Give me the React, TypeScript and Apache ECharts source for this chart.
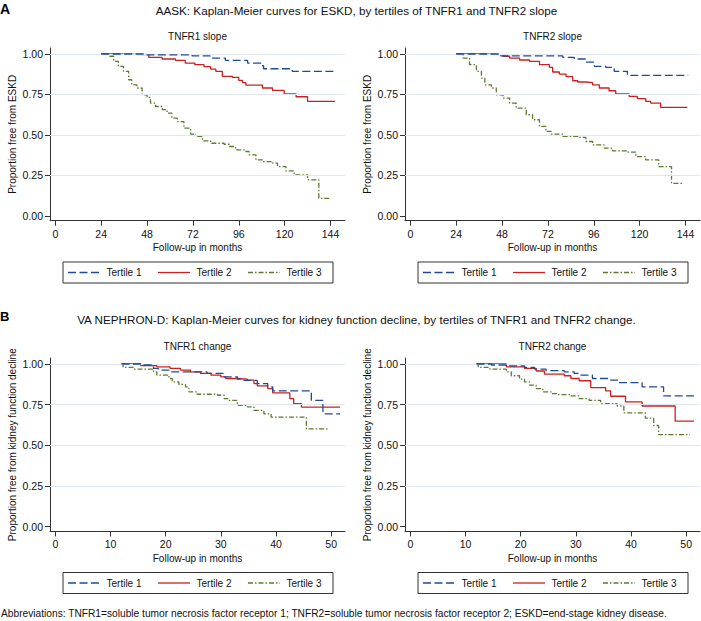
import React, { useEffect, useRef } from "react";
import * as echarts from "echarts";

const FONT = "'Liberation Sans', Arial, Helvetica, sans-serif";

const tertileNames = ["Tertile 1", "Tertile 2", "Tertile 3"];
const aaskTicks = [0, 24, 48, 72, 96, 120, 144];
const vaTicks = [0, 10, 20, 30, 40, 50];
const yTicks = [0, 0.25, 0.5, 0.75, 1];
const gridLineValues = [0.25, 0.5, 0.75, 1];

// AASK, TNFR1 slope: [month, proportion free from ESKD]
const aaskR1T1: number[][] = [[24, 1], [48, 0.995], [71.6, 0.988], [81, 0.975], [89, 0.96], [100.6, 0.944], [107.6, 0.928], [109, 0.909], [124, 0.893], [146.5, 0.893]];
const aaskR1T2: number[][] = [[24, 1], [31, 0.996], [48.9, 0.979], [55.9, 0.969], [62.9, 0.961], [68, 0.944], [73, 0.934], [77.8, 0.922], [81.3, 0.907], [84, 0.893], [87.4, 0.862], [92.7, 0.856], [96, 0.837], [98, 0.823], [99.7, 0.808], [108.4, 0.79], [113.7, 0.775], [119.8, 0.753], [126, 0.736], [132, 0.707], [146.3, 0.707]];
const aaskR1T3: number[][] = [[24, 1], [27.9, 0.986], [30.5, 0.955], [33, 0.924], [35.7, 0.893], [38.4, 0.841], [40, 0.81], [42.7, 0.79], [45.4, 0.748], [48, 0.732], [49.8, 0.697], [52.4, 0.676], [56, 0.656], [58.5, 0.635], [61, 0.604], [63.8, 0.583], [67.3, 0.542], [70.8, 0.505], [73.4, 0.491], [77, 0.464], [81.3, 0.449], [88.3, 0.443], [91, 0.429], [94.4, 0.408], [99.7, 0.398], [101.4, 0.377], [105, 0.346], [108.4, 0.336], [113.7, 0.326], [116.3, 0.305], [120.7, 0.278], [125, 0.254], [132, 0.223], [137.9, 0.109], [144.3, 0.109]];

// AASK, TNFR2 slope
const aaskR2T1: number[][] = [[24, 1], [47, 0.988], [79.8, 0.979], [85.8, 0.969], [91.9, 0.95], [96.3, 0.924], [102.3, 0.918], [106.7, 0.893], [113.6, 0.868], [145.4, 0.868]];
const aaskR2T2: number[][] = [[24, 1], [38, 0.996], [48.5, 0.986], [52, 0.975], [57.2, 0.963], [62.4, 0.955], [67.6, 0.934], [72.8, 0.918], [74.5, 0.889], [78, 0.876], [81.5, 0.86], [85, 0.835], [87.6, 0.827], [91.9, 0.823], [95.4, 0.81], [98.9, 0.79], [104, 0.773], [107.5, 0.753], [114.5, 0.738], [118.8, 0.724], [123.2, 0.707], [125.8, 0.697], [131, 0.67], [145, 0.67]];
const aaskR2T3: number[][] = [[24, 1], [27.6, 0.975], [31, 0.934], [34.6, 0.893], [37.2, 0.851], [39, 0.81], [42.4, 0.79], [45, 0.748], [48.5, 0.728], [52, 0.697], [55.4, 0.666], [60.7, 0.625], [64, 0.594], [67.6, 0.553], [71, 0.522], [73.7, 0.505], [79.8, 0.491], [87.6, 0.485], [91.9, 0.46], [95.4, 0.439], [101.5, 0.419], [105.8, 0.402], [113.6, 0.394], [118, 0.367], [123.2, 0.346], [130, 0.305], [136.7, 0.202], [143.2, 0.202]];

// VA NEPHRON-D, TNFR1 change
const vaR1T1: number[][] = [[12, 1], [15.4, 0.994], [17.8, 0.973], [18.7, 0.963], [20.6, 0.952], [27.5, 0.942], [30.6, 0.921], [33, 0.907], [34.2, 0.899], [36.6, 0.88], [38.5, 0.86], [39.4, 0.835], [46.4, 0.777], [48.5, 0.694], [51.6, 0.694]];
const vaR1T2: number[][] = [[12, 1], [15.5, 0.99], [18.4, 0.983], [20.8, 0.973], [22.7, 0.963], [24.5, 0.952], [26.3, 0.942], [28.2, 0.932], [30, 0.921], [30.9, 0.911], [33, 0.907], [34.8, 0.901], [36, 0.88], [36.6, 0.866], [38.5, 0.849], [39.4, 0.822], [42.5, 0.787], [43.2, 0.756], [44.6, 0.735], [51.6, 0.735]];
const vaR1T3: number[][] = [[12, 1], [12.3, 0.979], [14.2, 0.969], [17.8, 0.952], [18.4, 0.932], [20.6, 0.911], [21.2, 0.89], [22.4, 0.874], [23.6, 0.859], [24.2, 0.829], [25.7, 0.814], [29.4, 0.808], [30.6, 0.787], [31.5, 0.777], [33, 0.746], [34.8, 0.736], [36, 0.715], [37.8, 0.694], [39.1, 0.674], [45.5, 0.601], [49.7, 0.601]];

// VA NEPHRON-D, TNFR2 change
const vaR2T1: number[][] = [[12, 1], [14.7, 0.994], [17.4, 0.988], [20.7, 0.979], [22.5, 0.969], [24.6, 0.959], [27.9, 0.952], [29.7, 0.942], [30.6, 0.932], [33, 0.911], [36.3, 0.901], [37.8, 0.886], [42, 0.859], [45.9, 0.804], [51.4, 0.804]];
const vaR2T2: number[][] = [[12, 1], [17.4, 0.983], [20.7, 0.973], [22.8, 0.957], [24.3, 0.938], [27.9, 0.928], [29.1, 0.911], [30.6, 0.897], [32.7, 0.855], [35.4, 0.835], [36.3, 0.802], [39, 0.767], [42, 0.742], [48, 0.649], [51.4, 0.649]];
const vaR2T3: number[][] = [[12, 1], [12.3, 0.979], [14.4, 0.969], [17.4, 0.952], [18.3, 0.928], [19.8, 0.907], [20.7, 0.89], [21.6, 0.87], [22.8, 0.849], [24, 0.829], [25.5, 0.818], [26.7, 0.812], [29.1, 0.804], [30.6, 0.787], [32.4, 0.777], [34.5, 0.756], [37.5, 0.742], [38.7, 0.7], [42.6, 0.667], [44.1, 0.622], [45, 0.566], [50.7, 0.566]];

const titleA = "AASK: Kaplan-Meier curves for ESKD, by tertiles of TNFR1 and TNFR2 slope";
const titleB = "VA NEPHRON-D: Kaplan-Meier curves for kidney function decline, by tertiles of TNFR1 and TNFR2 change.";
const footnote = "Abbreviations: TNFR1=soluble tumor necrosis factor receptor 1; TNFR2=soluble tumor necrosis factor receptor 2; ESKD=end-stage kidney disease.";

const COLORS = ["#1f4a97", "#cc1f1f", "#5b7b2e"];
const DASHES: any[] = [[8, 3.5], "solid", [5, 2, 1.5, 2]];

const panels = [
  { left: 50, top: 48, height: 172.7, xMin: -2.78, xMax: 151.6, ticks: aaskTicks, data: [aaskR1T1, aaskR1T2, aaskR1T3], sub: "TNFR1 slope", subY: 36, yName: "Proportion free from ESKD", legendTop: 262, legendLeft: 63 },
  { left: 405, top: 48, height: 172.7, xMin: -2.78, xMax: 151.6, ticks: aaskTicks, data: [aaskR2T1, aaskR2T2, aaskR2T3], sub: "TNFR2 slope", subY: 36, yName: "Proportion free from ESKD", legendTop: 262, legendLeft: 418 },
  { left: 50, top: 358, height: 173.4, xMin: -0.96, xMax: 52.5, ticks: vaTicks, data: [vaR1T1, vaR1T2, vaR1T3], sub: "TNFR1 change", subY: 346, yName: "Proportion free from kidney function decline", legendTop: 572.5, legendLeft: 63 },
  { left: 405, top: 358, height: 173.4, xMin: -0.96, xMax: 52.5, ticks: vaTicks, data: [vaR2T1, vaR2T2, vaR2T3], sub: "TNFR2 change", subY: 346, yName: "Proportion free from kidney function decline", legendTop: 572.5, legendLeft: 418 },
];

export default function App() {
  const ref = useRef<HTMLDivElement>(null);
  useEffect(() => {
    if (!ref.current) return;
    const chart = echarts.init(ref.current, undefined, { renderer: "svg" });
    const grids: any[] = [];
    const xAxes: any[] = [];
    const yAxes: any[] = [];
    const series: any[] = [];
    const graphics: any[] = [];
    panels.forEach((p, i) => {
      grids.push({ left: p.left, top: p.top, width: 295, height: p.height, containLabel: false });
      xAxes.push({
        type: "value", gridIndex: i, min: p.xMin, max: p.xMax,
        name: "Follow-up in months", nameLocation: "middle", nameGap: 22,
        nameTextStyle: { fontFamily: FONT, fontSize: 10, color: "#111" },
        axisLine: { onZero: false, lineStyle: { color: "#333", width: 1 } },
        axisTick: { show: true, length: 5, customValues: p.ticks, lineStyle: { color: "#333" } },
        axisLabel: { customValues: p.ticks, margin: 7.5, fontFamily: FONT, fontSize: 10.5, color: "#111" },
        splitLine: { show: false },
      });
      yAxes.push({
        type: "value", gridIndex: i, min: -0.029, max: 1.037,
        name: p.yName, nameLocation: "middle", nameGap: 33,
        nameTextStyle: { fontFamily: FONT, fontSize: 10, color: "#111" },
        axisLine: { show: true, onZero: false, lineStyle: { color: "#333", width: 1 } },
        axisTick: { show: true, length: 5, customValues: yTicks, lineStyle: { color: "#333" } },
        axisLabel: { customValues: yTicks, margin: 7, fontFamily: FONT, fontSize: 10.5, color: "#111", formatter: (v: number) => v.toFixed(2) },
        splitLine: { show: false },
      });
      series.push({
        type: "line", xAxisIndex: i, yAxisIndex: i, data: [], silent: true, z: 1,
        markLine: {
          silent: true, symbol: ["none", "none"], label: { show: false },
          lineStyle: { color: "#dfe6ee", width: 1, type: "solid" },
          data: gridLineValues.map((v) => ({ yAxis: v })),
        },
      });
      p.data.forEach((d, k) => {
        series.push({
          type: "line", name: tertileNames[k], xAxisIndex: i, yAxisIndex: i, data: d,
          step: "end", showSymbol: false, symbol: "none", z: 5 - k,
          lineStyle: { color: COLORS[k], width: 1.3, type: DASHES[k] },
          itemStyle: { color: COLORS[k] },
        });
      });
      // legend box drawn with graphic elements
      const lx = p.legendLeft;
      const ly = p.legendTop;
      const cy = ly + 10.5;
      graphics.push({
        type: "rect", shape: { x: lx, y: ly, width: 270, height: 21 },
        style: { fill: "none", stroke: "#333", lineWidth: 1 }, silent: true,
      });
      tertileNames.forEach((n, k) => {
        const ox = lx + 5 + k * 90;
        graphics.push({
          type: "line", shape: { x1: ox, y1: cy, x2: ox + 32, y2: cy },
          style: { stroke: COLORS[k], lineWidth: 1.3, lineDash: DASHES[k] === "solid" ? null : DASHES[k] },
          silent: true,
        });
        graphics.push({
          type: "text", x: ox + 38.5, y: cy,
          style: { text: n, fontFamily: FONT, fontSize: 10, fill: "#111", align: "left", verticalAlign: "middle" },
          silent: true,
        });
      });
      graphics.push({
        type: "text", x: p.left + 147.5, y: p.subY,
        style: { text: p.sub, fontFamily: FONT, fontSize: 10, fill: "#111", align: "center", verticalAlign: "middle" },
      });
    });
    graphics.push(
      { type: "text", x: 0, y: 8.5, style: { text: "A", fontFamily: FONT, fontSize: 14, fontWeight: "bold", fill: "#000", align: "left", verticalAlign: "middle" } },
      { type: "text", x: 0, y: 316, style: { text: "B", fontFamily: FONT, fontSize: 13, fontWeight: "bold", fill: "#000", align: "left", verticalAlign: "middle" } },
      { type: "text", x: 356.5, y: 10, style: { text: titleA, fontFamily: FONT, fontSize: 11.7, fill: "#111", align: "center", verticalAlign: "middle" } },
      { type: "text", x: 356.5, y: 319, style: { text: titleB, fontFamily: FONT, fontSize: 11.7, fill: "#111", align: "center", verticalAlign: "middle" } },
      { type: "text", x: 1, y: 613.5, style: { text: footnote, fontFamily: FONT, fontSize: 10.2, fill: "#111", align: "left", verticalAlign: "middle" } },
    );
    chart.setOption({
      animation: false,
      backgroundColor: "#ffffff",
      grid: grids,
      xAxis: xAxes,
      yAxis: yAxes,
      series,
      graphic: graphics,
    });
    return () => chart.dispose();
  }, []);
  return <div ref={ref} style={{ position: "absolute", left: 0, top: 0, width: 701, height: 621 }} />;
}
